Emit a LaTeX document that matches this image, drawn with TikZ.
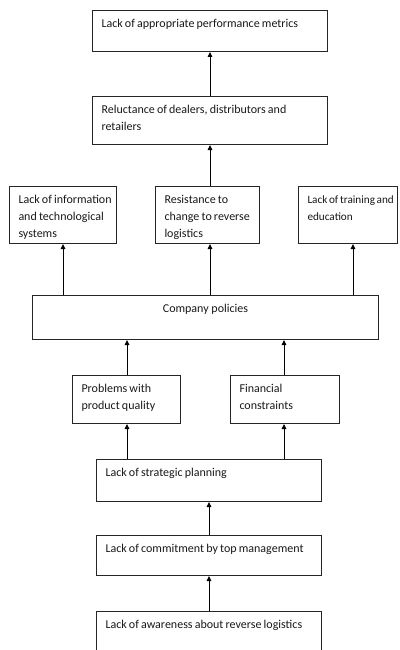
\documentclass[tikz,border=0pt]{standalone}
\usepackage{fontspec}
\setmainfont{Carlito}
\usetikzlibrary{arrows.meta}
\newcommand{\bxtext}[3]{\parbox[t][#2pt][t]{#1pt}{\vspace*{9pt}\leftskip=9pt\rightskip=0pt plus 1fil\spaceskip=0.18em\relax #3\par}}
\newcommand{\bxctext}[3]{\parbox[t][#2pt][t]{#1pt}{\vspace*{9pt}\centering #3\par}}
\begin{document}
\begin{tikzpicture}[x=1pt,y=-1pt,
  box/.style={draw=black!85, line width=1pt, anchor=north west, inner sep=0pt,
    font=\fontsize{12}{17}\selectfont, text=black!90},
  arr/.style={draw=black, line width=0.9pt, -{Triangle[length=5pt,width=4.5pt]}}]
\path[fill=white, use as bounding box] (0,0) rectangle (399,650);
\clip (0,0) rectangle (399,650);
\node[box] (m1) at (92,10) {\bxtext{235}{41}{Lack of appropriate performance metrics}};
\node[box] (m2) at (92,96) {\bxtext{235}{48}{Reluctance of dealers, distributors and\\retailers}};
\node[box] (A) at (9,186) {\bxtext{107}{57}{\mbox{Lack of information}\\\mbox{and technological}\\systems}};
\node[box] (B) at (155,186) {\bxtext{104}{57}{Resistance to\\\mbox{change to reverse}\\logistics}};
\node[box] (C) at (298,186) {\bxtext{99}{57}{\fontsize{11.2}{17}\selectfont\spaceskip=0.15em\mbox{Lack of training and}\\education}};
\node[box] (cp) at (32,295) {\bxctext{346}{44}{Company policies}};
\node[box] (D) at (72,375) {\bxtext{108}{48}{Problems with\\product quality}};
\node[box] (E) at (230,375) {\bxtext{109}{48}{Financial\\constraints}};
\node[box] (F) at (96,459) {\bxtext{225}{42}{Lack of strategic planning}};
\node[box] (G) at (96,535) {\bxtext{225}{40}{Lack of commitment by top management}};
\node[box] (H) at (96,611) {\bxtext{225}{55}{Lack of awareness about reverse logistics}};
\coordinate (xc) at (353,0);
\coordinate (xd) at (127,0);
\coordinate (xe) at (284,0);
\draw[arr] (m2.north) -- (m1.south);
\draw[arr] (B.north -| m2.south) -- (m2.south);
\draw[arr] (cp.north -| A.south) -- (A.south);
\draw[arr] (cp.north -| m2.south) -- (B.south -| m2.south);
\draw[arr] (cp.north -| xc) -- (C.south -| xc);
\draw[arr] (D.north -| xd) -- (cp.south -| xd);
\draw[arr] (E.north -| xe) -- (cp.south -| xe);
\draw[arr] (F.north -| xd) -- (D.south -| xd);
\draw[arr] (F.north -| xe) -- (E.south -| xe);
\draw[arr] (G.north) -- (F.south);
\draw[arr] (H.north) -- (G.south);
\end{tikzpicture}
\end{document}
